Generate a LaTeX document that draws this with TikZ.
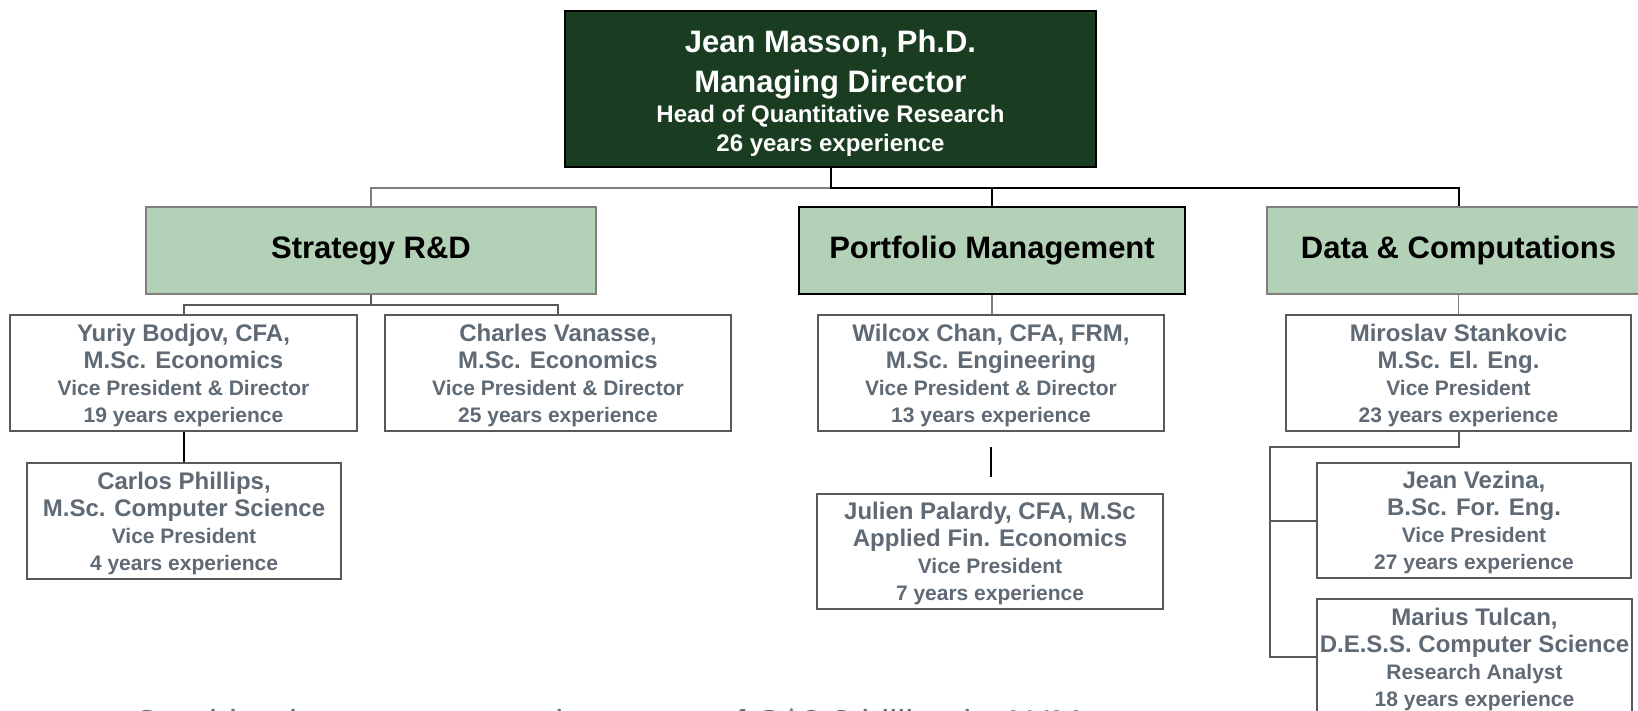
\documentclass[tikz,border=0pt]{standalone}
\usepackage{fontspec}
\setmainfont{Liberation Sans}
\usepackage{xcolor}

\definecolor{darkgreen}{HTML}{1A3D22}
\definecolor{sage}{HTML}{B3D1B6}
\definecolor{slate}{HTML}{5F6A75}
\definecolor{boxgray}{HTML}{595959}
\definecolor{linegray}{HTML}{7F7F7F}
\definecolor{footblue}{HTML}{5D7087}

\newcommand{\bigline}{\fontsize{31}{37}\selectfont}
\newcommand{\nameline}{\fontsize{24}{28}\selectfont}
% name, degree, title, experience
\newcommand{\person}[4]{{\nameline\rule{0pt}{21.5pt}#1}\\{\nameline #2}\\#3\\#4}

\tikzset{
  headbox/.style={draw=black, line width=2pt, fill=darkgreen, text=white, align=center,
    minimum width=531pt, minimum height=156pt, inner sep=2pt,
    font=\fontsize{24}{29}\selectfont\bfseries},
  unitbox/.style={line width=2.5pt, fill=sage, minimum height=87pt,
    font=\fontsize{31}{37}\selectfont\bfseries},
  staffbox/.style={draw=boxgray, line width=2pt, fill=white, text=slate, align=center,
    minimum height=116pt, inner sep=2pt, font=\fontsize{21}{27}\selectfont\bfseries},
  graylink/.style={draw=linegray, line width=1.5pt},
  blacklink/.style={draw=black, line width=2pt},
  treelink/.style={draw=boxgray, line width=2pt},
  aumline/.style={text=footblue, inner sep=0pt, font=\fontsize{36}{43}\selectfont},
}

\begin{document}
\begin{tikzpicture}[x=1pt,y=-1pt]
    \useasboundingbox (0,0) rectangle (1638,711);
    \fill[white] (0,0) rectangle (1638,711);
    \clip (0,0) rectangle (1638,711);

    % head of the group
    \node[headbox] (boss) at (830.5,89)
        {{\bigline\rule{0pt}{31pt}Jean Masson, Ph.D.}\\[11pt]{\bigline Managing Director}\\[1pt]Head of Quantitative Research\\26 years experience};

    % teams
    \node[unitbox, draw=linegray, minimum width=450pt] (strategy) at (371,250.5) {Strategy R\&D};
    \node[unitbox, draw=black, minimum width=386pt] (portfolio) at (992,250.5) {Portfolio Management};
    \node[unitbox, draw=linegray, minimum width=383pt] (data) at (1458.5,250.5) {Data \& Computations};

    % people
    \node[staffbox, minimum width=347pt] (bodjov) at (183.5,373)
        {\person{Yuriy Bodjov, CFA,}{M.Sc. Economics}{Vice President \& Director}{19 years experience}};
    \node[staffbox, minimum width=346pt] (vanasse) at (558,373)
        {\person{Charles Vanasse,}{M.Sc. Economics}{Vice President \& Director}{25 years experience}};
    \node[staffbox, minimum width=346pt] (chan) at (991,373)
        {\person{Wilcox Chan, CFA, FRM,}{M.Sc. Engineering}{Vice President \& Director}{13 years experience}};
    \node[staffbox, minimum width=345pt] (stankovic) at (1458.5,373)
        {\person{Miroslav Stankovic}{M.Sc. El. Eng.}{Vice President}{23 years experience}};
    \node[staffbox, minimum width=314pt] (phillips) at (184,521)
        {\person{Carlos Phillips,}{M.Sc. Computer Science}{Vice President}{4 years experience}};
    \node[staffbox, minimum width=346pt, minimum height=115pt] (palardy) at (990,551.5)
        {\person{Julien Palardy, CFA, M.Sc}{Applied Fin. Economics}{Vice President}{7 years experience}};
    \node[staffbox, minimum width=314pt, minimum height=115pt] (vezina) at (1474,520.5)
        {\person{Jean Vezina,}{B.Sc. For. Eng.}{Vice President}{27 years experience}};
    \node[staffbox, minimum width=315pt] (tulcan) at (1474.5,657)
        {\person{Marius Tulcan,}{D.E.S.S. Computer Science}{Research Analyst}{18 years experience}};

    % head to teams
    \path (boss.south) ++(0,20) coordinate (bus);
    \draw[graylink] (bus) -| (strategy.north);
    \draw[blacklink] (boss.south) -- (bus) -| (data.north);
    \draw[blacklink] (bus -| portfolio.north) -- (portfolio.north);

    % teams to people
    \path (strategy.south) ++(0,10) coordinate (sbus);
    \draw[treelink] (strategy.south) -- (sbus);
    \draw[treelink] (bodjov.north) |- (sbus) -| (vanasse.north);
    \draw[graylink] (portfolio.south) -- (portfolio.south |- chan.north);
    \draw[graylink] (data.south) -- (data.south |- stankovic.north);

    \draw[blacklink] (bodjov.south) -- (bodjov.south |- phillips.north);
    \draw[blacklink, shorten <=15pt, shorten >=16pt] (chan.south) -- (chan.south |- palardy.north);

    \coordinate (trunk) at (1270,447);
    \draw[treelink] (stankovic.south) |- (trunk) |- (tulcan.west);
    \draw[treelink] (trunk |- vezina.west) -- (vezina.west);

    \node[aumline, anchor=base west] (aum) at (133,735) {Combined team manages in excess of C\$3.3 billion in AUM};
\end{tikzpicture}
\end{document}
